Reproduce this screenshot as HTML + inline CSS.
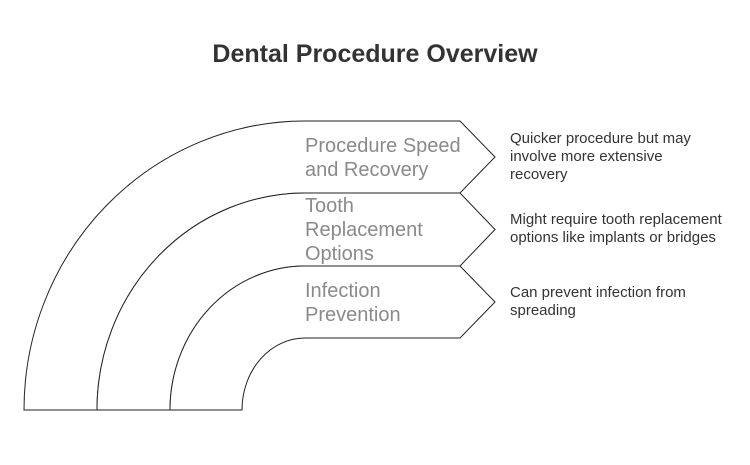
<!DOCTYPE html>
<html><head><style>
body{margin:0;width:750px;height:460px;background:#fff;overflow:hidden}
</style></head><body>
<svg width="750" height="460" xmlns="http://www.w3.org/2000/svg" font-family="Liberation Sans, sans-serif">
<text x="375" y="62" text-anchor="middle" font-size="25" font-weight="bold" fill="#333">Dental Procedure Overview</text>
<g fill="#fff" stroke="#222" stroke-width="1">
<path d="M24,410 A281,289 0 0 1 305,121 L460,121 L495,157 L460,193 L305,193 A208,217 0 0 0 97,410 Z"/>
<path d="M97,410 A208,217 0 0 1 305,193 L460,193 L495,229.5 L460,266 L305,266 A135,144 0 0 0 170,410 Z"/>
<path d="M170,410 A135,144 0 0 1 305,266 L460,266 L495,302 L460,338 L305,338 A63,72 0 0 0 242,410 Z"/>
</g>
<g font-size="20" fill="#8a8a8a">
<text x="305" y="152">Procedure Speed</text>
<text x="305" y="176">and Recovery</text>
<text x="305" y="212">Tooth</text>
<text x="305" y="236">Replacement</text>
<text x="305" y="260">Options</text>
<text x="305" y="297">Infection</text>
<text x="305" y="321">Prevention</text>
</g>
<g font-size="15" fill="#333">
<text x="510" y="143">Quicker procedure but may</text>
<text x="510" y="161">involve more extensive</text>
<text x="510" y="179">recovery</text>
<text x="510" y="224">Might require tooth replacement</text>
<text x="510" y="242">options like implants or bridges</text>
<text x="510" y="297">Can prevent infection from</text>
<text x="510" y="315">spreading</text>
</g>
</svg>
</body></html>
